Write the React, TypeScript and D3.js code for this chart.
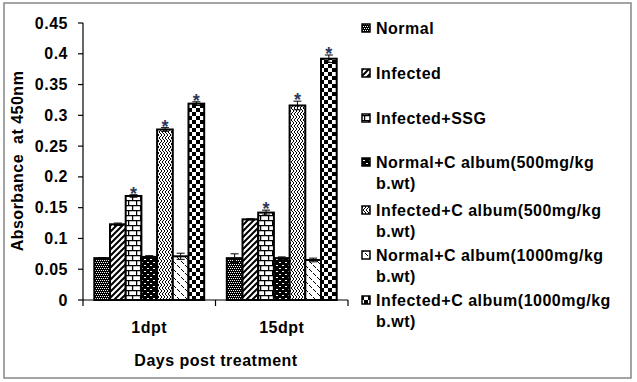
import React from "react";
import * as d3 from "d3";

const groups = ["1dpt", "15dpt"];
const seriesNames = [
  ["Normal"],
  ["Infected"],
  ["Infected+SSG"],
  ["Normal+C album(500mg/kg", "b.wt)"],
  ["Infected+C album(500mg/kg", "b.wt)"],
  ["Normal+C album(1000mg/kg", "b.wt)"],
  ["Infected+C album(1000mg/kg", "b.wt)"],
];
// values[series][group]
const values = [
  [0.068, 0.068],
  [0.123, 0.131],
  [0.169, 0.142],
  [0.07, 0.068],
  [0.277, 0.316],
  [0.071, 0.065],
  [0.319, 0.392],
];
const errors = [
  [0.001, 0.007],
  [0.002, 0.001],
  [0.002, 0.004],
  [0.002, 0.002],
  [0.003, 0.007],
  [0.005, 0.003],
  [0.003, 0.006],
];
const significant = [
  [false, false],
  [false, false],
  [true, true],
  [false, false],
  [true, true],
  [false, false],
  [true, true],
];
const yTicks = [0, 0.05, 0.1, 0.15, 0.2, 0.25, 0.3, 0.35, 0.4, 0.45];
const yTickLabels = ["0", "0.05", "0.1", "0.15", "0.2", "0.25", "0.3", "0.35", "0.4", "0.45"];
const yTitle = "Absorbance  at 450nm";
const xTitle = "Days post treatment";

const legendY = [28, 73, 118, 162, 210, 255, 300];

const FONT = "'Liberation Sans', Arial, sans-serif";
const FS = 16;
const LS = 0.5;

export default function App() {
  const left = 83, right = 348, top = 23, bottom = 300;
  const y = d3.scaleLinear().domain([0, 0.45]).range([bottom, top]);
  const x0 = d3.scaleBand().domain(groups).range([left, right]).padding(0);
  const x1 = d3
    .scaleBand()
    .domain(d3.range(values.length).map(String))
    .range([0, x0.bandwidth()])
    .paddingInner(0)
    .paddingOuter(0.72);
  const bw = x1.bandwidth();
  const pid = (i: number) => `pat${i}`;

  return (
    <svg
      width={637}
      height={382}
      style={{ position: "absolute", left: 0, top: 0, display: "block", background: "#fff" }}
      fontFamily={FONT}
    >
      <defs>
        <pattern id="pat0" width={4} height={4} patternUnits="userSpaceOnUse">
          <rect width={4} height={4} fill="#000" />
          <rect x={0} y={0} width={1} height={1} fill="#fff" />
          <rect x={2} y={0} width={1} height={1} fill="#fff" />
          <rect x={1} y={2} width={1} height={1} fill="#fff" />
          <rect x={3} y={2} width={1} height={1} fill="#fff" />
        </pattern>
        <pattern id="pat1" width={6} height={6} patternUnits="userSpaceOnUse">
          <rect width={6} height={6} fill="#fff" />
          <path d="M0,6 L6,0 M-1,1 L1,-1 M5,7 L7,5" stroke="#000" strokeWidth={2} />
        </pattern>
        <pattern id="pat2" width={8} height={10} patternUnits="userSpaceOnUse">
          <rect width={8} height={10} fill="#fff" />
          <path d="M0,0.6 H8 M0,5.6 H8 M0.6,0 V5.6 M4.6,5.6 V10" stroke="#000" strokeWidth={1.3} />
        </pattern>
        <pattern id="pat3" width={6} height={6} patternUnits="userSpaceOnUse">
          <rect width={6} height={6} fill="#000" />
          <rect x={0} y={1} width={2} height={1} fill="#fff" />
          <rect x={3} y={4} width={2} height={1} fill="#fff" />
        </pattern>
        <pattern id="pat4" width={6} height={6} patternUnits="userSpaceOnUse">
          <rect width={6} height={6} fill="#fff" />
          <path d="M0,0 L3,3 L0,6 M3,0 L6,3 L3,6" stroke="#000" strokeWidth={1} fill="none" />
        </pattern>
        <pattern id="pat5" width={8} height={8} patternUnits="userSpaceOnUse">
          <rect width={8} height={8} fill="#fff" />
          <path d="M1,1 L4,4 M5,5 L8,8" stroke="#000" strokeWidth={1} />
        </pattern>
        <pattern id="pat6" width={8} height={8} patternUnits="userSpaceOnUse">
          <rect width={8} height={8} fill="#fff" />
          <rect x={0} y={0} width={4} height={4} fill="#000" />
          <rect x={4} y={4} width={4} height={4} fill="#000" />
        </pattern>
      </defs>

      {/* outer border */}
      <rect x={4} y={3} width={627} height={375} fill="none" stroke="#868686" strokeWidth={1.5} />

      {/* y axis */}
      <line x1={left} x2={left} y1={top} y2={bottom} stroke="#000" strokeWidth={1.2} />
      {yTicks.map((t, i) => (
        <g key={i}>
          <line x1={left - 5} x2={left} y1={y(t)} y2={y(t)} stroke="#000" strokeWidth={1.2} />
          <text
            x={68}
            y={y(t) + 5.5}
            textAnchor="end"
            fontSize={FS}
            fontWeight="bold"
            letterSpacing={LS}
          >
            {yTickLabels[i]}
          </text>
        </g>
      ))}

      {/* bars */}
      {groups.map((g, gi) => (
        <g key={g}>
          {values.map((vals, si) => {
            const bx = (x0(g) as number) + (x1(String(si)) as number);
            const v = vals[gi];
            const e = errors[si][gi];
            const cx = bx + bw / 2;
            return (
              <g key={si}>
                <rect
                  x={bx}
                  y={y(v)}
                  width={bw}
                  height={bottom - y(v)}
                  fill={`url(#${pid(si)})`}
                  stroke="#000"
                  strokeWidth={2}
                />
                <line x1={cx} x2={cx} y1={y(v + e)} y2={y(v - e)} stroke="#000" strokeWidth={1} />
                <line x1={cx - 4} x2={cx + 4} y1={y(v + e)} y2={y(v + e)} stroke="#000" strokeWidth={1} />
                <line x1={cx - 4} x2={cx + 4} y1={y(v - e)} y2={y(v - e)} stroke="#000" strokeWidth={1} />
                {significant[si][gi] && (
                  <text
                    x={cx}
                    y={y(v + e) + 5}
                    textAnchor="middle"
                    fontSize={18}
                    fontWeight="bold"
                    fill="#2b3a5c"
                  >
                    *
                  </text>
                )}
              </g>
            );
          })}
        </g>
      ))}

      {/* x axis */}
      <line x1={left} x2={right} y1={bottom} y2={bottom} stroke="#000" strokeWidth={1.2} />
      {[left, ...groups.map((g) => (x0(g) as number) + x0.bandwidth())].map((tx, i) => (
        <line key={i} x1={tx} x2={tx} y1={bottom} y2={bottom + 6} stroke="#000" strokeWidth={1.2} />
      ))}
      {groups.map((g) => (
        <text
          key={g}
          x={(x0(g) as number) + x0.bandwidth() / 2}
          y={333}
          textAnchor="middle"
          fontSize={FS}
          fontWeight="bold"
          letterSpacing={LS}
        >
          {g}
        </text>
      ))}
      <text x={216} y={366} textAnchor="middle" fontSize={FS} fontWeight="bold" letterSpacing={LS}>
        {xTitle}
      </text>
      <text
        transform={`translate(23,161) rotate(-90)`}
        textAnchor="middle"
        fontSize={FS}
        fontWeight="bold"
        letterSpacing={LS}
        style={{ whiteSpace: "pre" }}
      >
        {yTitle}
      </text>

      {/* legend */}
      {seriesNames.map((lines, i) => (
        <g key={i}>
          <rect
            x={362}
            y={legendY[i] - 4}
            width={8}
            height={8}
            fill={`url(#${pid(i)})`}
            stroke="#000"
            strokeWidth={1.5}
          />
          {lines.map((ln, li) => (
            <text
              key={li}
              x={376}
              y={legendY[i] + 6 + li * 20.5}
              fontSize={FS}
              fontWeight="bold"
              letterSpacing={LS}
            >
              {ln}
            </text>
          ))}
        </g>
      ))}
    </svg>
  );
}
